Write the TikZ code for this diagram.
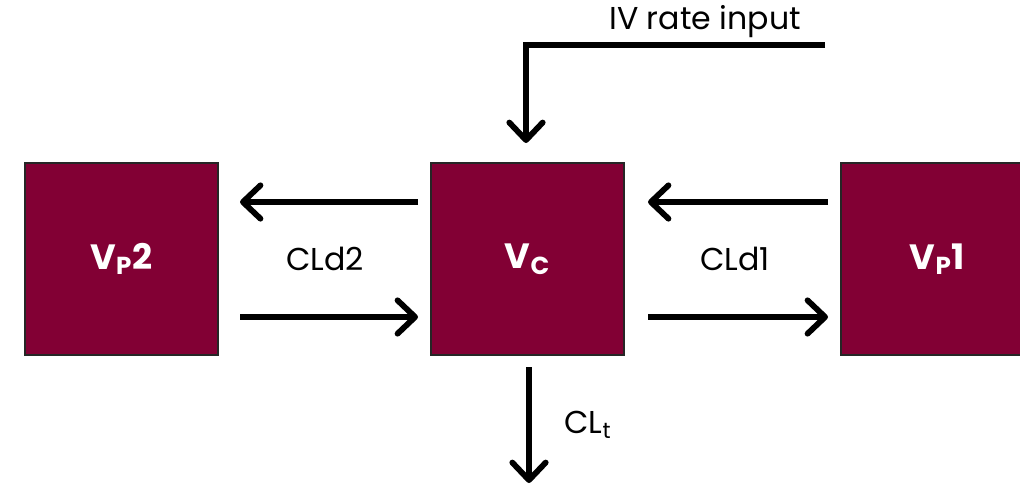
\documentclass[tikz,border=0pt]{standalone}
\usepackage{fontspec}
\setmainfont{Poppins}
\usetikzlibrary{arrows.meta}
\definecolor{maroon}{HTML}{820034}
\begin{document}
\begin{tikzpicture}[x=0.02cm,y=-0.02cm,
  comp/.style={draw=black!85,line width=0.8pt,fill=maroon,minimum width=3.86cm,minimum height=3.84cm,inner sep=0pt,text=white,font=\fontsize{20}{23}\selectfont\bfseries},
  flow/.style={line width=3.3pt,-{Straight Barb[length=10pt,width=19pt,line cap=round,line join=round]}},
  lbl/.style={font=\fontsize{18}{21}\selectfont,inner sep=0pt}]
\useasboundingbox (0,0) rectangle (1020,490);
\begin{scope}
\clip (0,0) rectangle (1020,490);
\node[comp] (p2) at (121.5,259) {V\textsubscript{P}2};
\node[comp] (c) at (527.5,259) {V\textsubscript{C}};
\node[comp] (p1) at (937.5,259) {V\textsubscript{P}1};
\end{scope}
\coordinate (a1) at (418,202); \coordinate (a2) at (240,202);
\coordinate (b1) at (240,317); \coordinate (b2) at (418,317);
\coordinate (d1) at (828,202); \coordinate (d2) at (648,202);
\coordinate (e1) at (648,317); \coordinate (e2) at (828,317);
\draw[flow] (a1) -- (a2);
\draw[flow] (b1) -- (b2);
\draw[flow] (d1) -- (d2);
\draw[flow] (e1) -- (e2);
\coordinate (iv0) at (825,45); \coordinate (ivc) at (526,45); \coordinate (ivend) at (526,143);
\draw[flow] (iv0) -- (ivc) -- (ivend);
\coordinate (cl0) at (529,367); \coordinate (cl1) at (529,483);
\draw[flow] (cl0) -- (cl1);
\node[lbl] (ivl) at (705,22) {IV rate input};
\node[lbl] (l2) at (325,259) {CLd2};
\node[lbl] (l1) at (735,259) {CLd1};
\node[lbl] (lt) at (588,425) {CL\textsubscript{t}};
\end{tikzpicture}
\end{document}
